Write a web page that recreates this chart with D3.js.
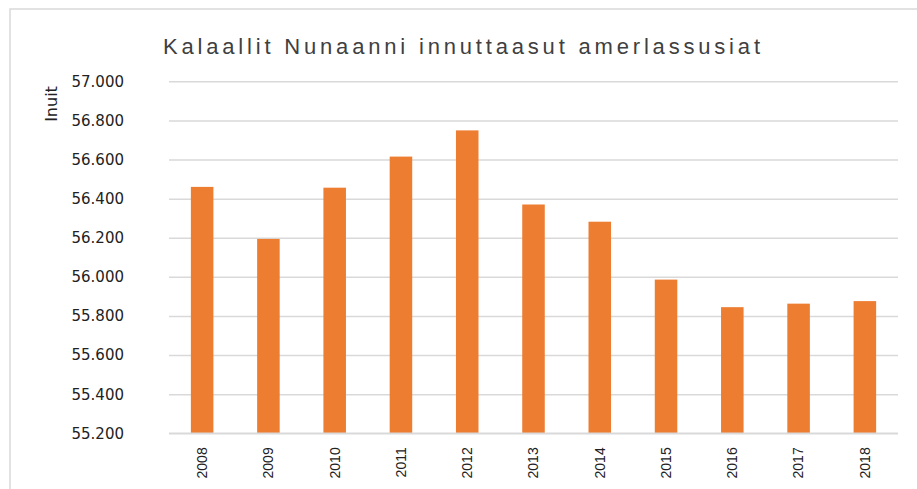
<!DOCTYPE html>
<html>
<head>
<meta charset="utf-8">
<script src="https://cdn.jsdelivr.net/npm/d3@7"></script>
<style>
  body { margin: 0; background: #fff; }
  svg { display: block; }
</style>
</head>
<body>
<svg width="917" height="489"></svg>
<script>
// population of Greenland, per year
var years = ["2008","2009","2010","2011","2012","2013","2014","2015","2016","2017","2018"]
var inuit = [56460, 56194, 56456, 56615, 56749, 56370, 56282, 55986, 55845, 55863, 55876]
var yTicks = [55200, 55400, 55600, 55800, 56000, 56200, 56400, 56600, 56800, 57000]
var titleText = "Kalaallit Nunaanni innuttaasut amerlassusiat"
var yLabel = "Inuit"

var svg = d3.select("svg")
// plot area (window.top is taken, so no bare "top")
var plotL = 169, plotR = 898, plotT = 81.3, plotB = 433.3

// chart frame (runs off the picture right and bottom)
svg.append("rect")
    .attr("x", 10).attr("y", 9)
    .attr("width", 940).attr("height", 520)
    .attr("fill", "#fff")
    .attr("stroke", "#d9d9d9").attr("stroke-width", 1.5)

var x = d3.scaleBand().domain(years).range([plotL, plotR]).paddingInner(0.66).paddingOuter(0.33)
var y = d3.scaleLinear().domain([55200, 57000]).range([plotB, plotT])

// gridlines + labels
var yAxis = d3.axisLeft(y).tickValues(yTicks)
    .tickSize(-(plotR - plotL)).tickPadding(45)
    .tickFormat(function(d) { return d3.format(".3f")(d/1000) })
var gy = svg.append("g").attr("transform", "translate(" + plotL + ",0)").call(yAxis)
gy.select(".domain").remove()
gy.selectAll(".tick line").attr("stroke", "#d9d9d9").attr("stroke-width", 1.5)
gy.selectAll(".tick text")
    .attr("font-family", "DejaVu Sans, sans-serif")
    .attr("font-size", 15).attr("fill", "#222")

// bars
svg.append("g").selectAll("rect")
    .data(inuit)
    .enter().append("rect")
    .attr("x", function(d, i) { return x(years[i]) })
    .attr("width", x.bandwidth())
    .attr("y", function(d) { return y(d) })
    .attr("height", function(d) { return plotB - y(d) })
    .attr("fill", "#ED7D31")

// baseline
svg.append("line")
    .attr("x1", plotL).attr("x2", plotR)
    .attr("y1", plotB).attr("y2", plotB)
    .attr("stroke", "#d9d9d9").attr("stroke-width", 1.5)

// x labels, rotated
var xAxis = d3.axisBottom(x).tickSize(0).tickPadding(0)
var gx = svg.append("g").attr("transform", "translate(0," + plotB + ")").call(xAxis)
gx.select(".domain").remove()
gx.selectAll(".tick text")
    .attr("transform", "rotate(-90)")
    .attr("x", -14).attr("y", 0).attr("dy", "0.35em")
    .attr("text-anchor", "end")
    .attr("font-family", "Liberation Sans Narrow, Liberation Sans, sans-serif")
    .attr("font-size", 14).attr("fill", "#222")

// title
svg.append("text")
    .attr("x", 163).attr("y", 54)
    .attr("textLength", 597).attr("lengthAdjust", "spacing")
    .attr("font-family", "Liberation Sans Narrow, Liberation Sans, sans-serif")
    .attr("font-size", 22).attr("fill", "#404040")
    .text(titleText)

// y axis title
svg.append("text")
    .attr("transform", "translate(57,104) rotate(-90)")
    .attr("text-anchor", "middle")
    .attr("font-family", "DejaVu Sans, sans-serif")
    .attr("font-size", 16).attr("fill", "#222")
    .text(yLabel)
</script>
</body>
</html>
